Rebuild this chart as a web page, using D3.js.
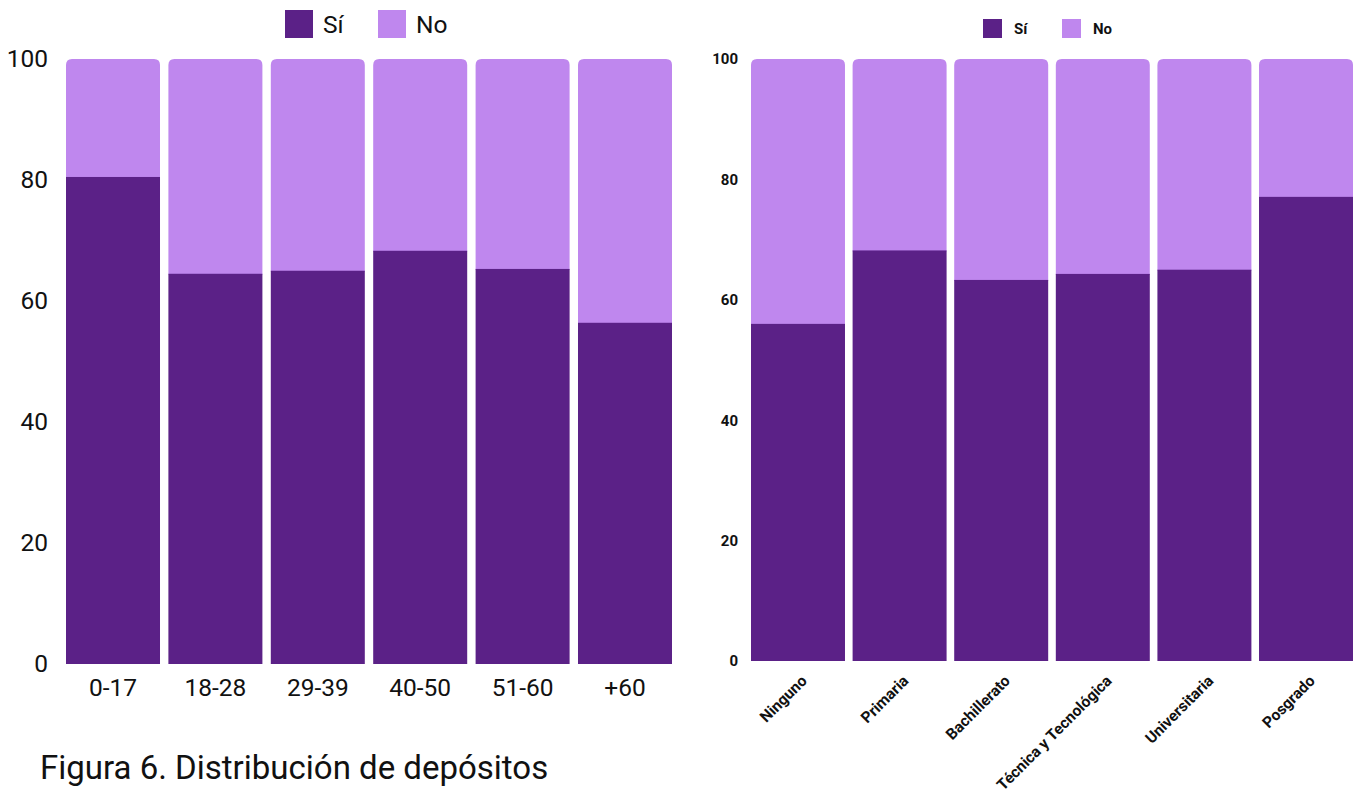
<!DOCTYPE html>
<html lang="es">
<meta charset="utf-8">
<head>
<script src="https://cdn.jsdelivr.net/npm/d3@7"></script>
<style>
  body { margin: 0; background: #fff; }
  svg { display: block; font-family: Roboto, "Noto Sans", sans-serif; }
</style>
</head>
<body>
<svg id="chart" width="1353" height="793"></svg>
<script>
// data
var edades = ["0-17", "18-28", "29-39", "40-50", "51-60", "+60"];
var siEdad = [80.5, 64.5, 65.0, 68.3, 65.3, 56.4];

var niveles = ["Ninguno", "Primaria", "Bachillerato", "Técnica y Tecnológica", "Universitaria", "Posgrado"];
var siNivel = [56.0, 68.2, 63.3, 64.3, 65.0, 77.1];

var series = ["Sí", "No"];
var yTicks = [0, 20, 40, 60, 80, 100];

var color = d3.scaleOrdinal().domain(series).range(["#5b2187", "#bf87ee"]);

var svg = d3.select("#chart");

// path for a bar segment with rounded top corners
function topRounded(x, y, w, h, r) {
  return "M" + x + "," + (y + h) +
    "V" + (y + r) +
    "Q" + x + "," + y + " " + (x + r) + "," + y +
    "H" + (x + w - r) +
    "Q" + (x + w) + "," + y + " " + (x + w) + "," + (y + r) +
    "V" + (y + h) + "Z";
}

function drawBars(g, cats, vals, x, y) {
  var rows = cats.map(function(c, i) { return { cat: c, si: vals[i] }; });
  var bar = g.selectAll(".bar").data(rows).enter().append("g").attr("class", "bar");
  bar.append("path")
    .attr("fill", color("No"))
    .attr("d", function(d) {
      return topRounded(x(d.cat), y(100), x.bandwidth(), y(d.si) - y(100) + 1, 6);
    });
  bar.append("rect")
    .attr("fill", color("Sí"))
    .attr("x", function(d) { return x(d.cat); })
    .attr("width", x.bandwidth())
    .attr("y", function(d) { return y(d.si); })
    .attr("height", function(d) { return y(0) - y(d.si); });
}

// ---- left chart: edades
var x1 = d3.scaleBand().domain(edades).range([66, 672]).paddingInner(0.082).paddingOuter(0);
var y1 = d3.scaleLinear().domain([0, 100]).range([664, 59]);
var g1 = svg.append("g");
drawBars(g1, edades, siEdad, x1, y1);

var ax1 = g1.append("g").attr("transform", "translate(66,0)")
  .call(d3.axisLeft(y1).tickValues(yTicks).tickSize(0).tickPadding(18));
ax1.select(".domain").remove();
ax1.selectAll("text").style("font-size", "24.5px").style("font-family", "Roboto").attr("fill", "#111");

var bx1 = g1.append("g").attr("transform", "translate(0,664)")
  .call(d3.axisBottom(x1).tickSize(0).tickPadding(15));
bx1.select(".domain").remove();
bx1.selectAll("text").style("font-size", "24.5px").style("font-family", "Roboto").attr("fill", "#111");

// legend left
var leg1 = g1.append("g").selectAll("g").data(series).enter().append("g")
  .attr("transform", function(d, i) { return "translate(" + (285 + i * 93) + ",10)"; });
leg1.append("rect").attr("width", 28).attr("height", 28).attr("fill", function(d) { return color(d); });
leg1.append("text").attr("x", 38).attr("y", 14).attr("dy", "0.35em")
  .style("font-size", "24.5px").attr("fill", "#111").text(function(d) { return d; });

// title
svg.append("text").attr("x", 40).attr("y", 779)
  .style("font-size", "33px").attr("fill", "#111")
  .text("Figura 6. Distribución de depósitos");

// ---- right chart: nivel educativo
var x2 = d3.scaleBand().domain(niveles).range([751, 1353]).paddingInner(0.075).paddingOuter(0);
var y2 = d3.scaleLinear().domain([0, 100]).range([661, 59]);
var g2 = svg.append("g");
drawBars(g2, niveles, siNivel, x2, y2);

var ax2 = g2.append("g").attr("transform", "translate(751,0)")
  .call(d3.axisLeft(y2).tickValues(yTicks).tickSize(0).tickPadding(13));
ax2.select(".domain").remove();
ax2.selectAll("text").style("font-size", "15px").style("font-weight", "bold")
  .style("font-family", "Roboto").attr("fill", "#111");

var bx2 = g2.append("g").attr("transform", "translate(0,661)")
  .call(d3.axisBottom(x2).tickSize(0).tickPadding(0));
bx2.select(".domain").remove();
bx2.selectAll("text")
  .style("font-size", "15.5px").style("font-weight", "bold").style("font-family", "Roboto")
  .attr("fill", "#111")
  .attr("text-anchor", "end")
  .attr("y", 0).attr("dy", "0.35em")
  .attr("transform", "translate(6,17) rotate(-45)");

// legend right
var leg2 = g2.append("g").selectAll("g").data(series).enter().append("g")
  .attr("transform", function(d, i) { return "translate(" + (983 + i * 79) + ",19)"; });
leg2.append("rect").attr("width", 19).attr("height", 19).attr("fill", function(d) { return color(d); });
leg2.append("text").attr("x", 31).attr("y", 10).attr("dy", "0.35em")
  .style("font-size", "15px").style("font-weight", "bold").attr("fill", "#111")
  .text(function(d) { return d; });
</script>
</body>
</html>
